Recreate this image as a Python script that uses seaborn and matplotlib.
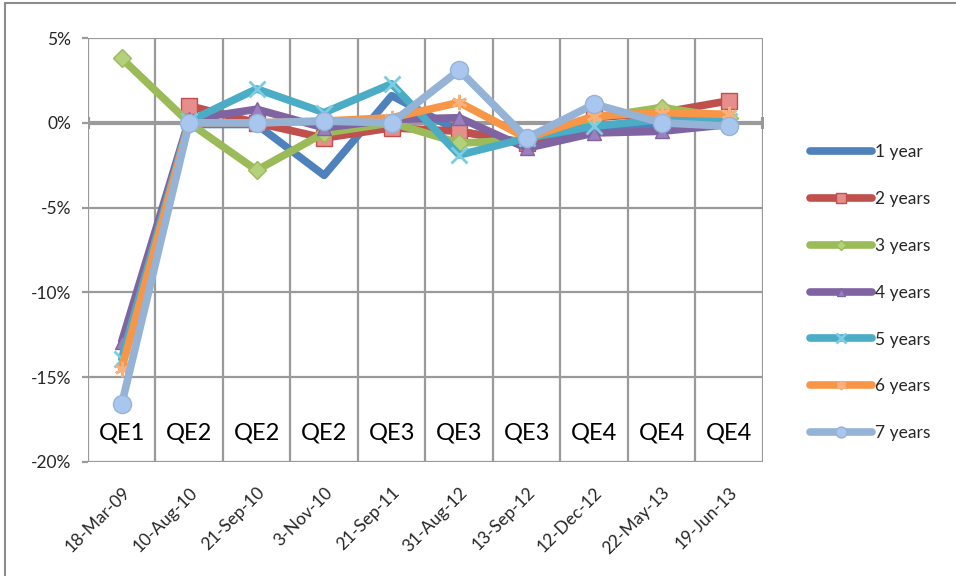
import numpy as np
import pandas as pd
import seaborn as sns
import matplotlib.pyplot as plt
from matplotlib.patches import Rectangle

# event dates and QE round labels
dates = ['18-Mar-09', '10-Aug-10', '21-Sep-10', '3-Nov-10', '21-Sep-11',
         '31-Aug-12', '13-Sep-12', '12-Dec-12', '22-May-13', '19-Jun-13']
qe_labels = ['QE1', 'QE2', 'QE2', 'QE2', 'QE3', 'QE3', 'QE3', 'QE4', 'QE4', 'QE4']

# yield changes (%) per maturity
y1 = [np.nan, -0.1, -0.1, -3.1, 1.6, -0.5, -1.2, -0.4, -0.1, 0.0]
y2 = [np.nan, 1.0, 0.0, -0.9, -0.3, -0.5, -1.2, 0.3, 0.6, 1.3]
y3 = [3.8, 0.0, -2.8, -0.6, 0.0, -1.2, -1.0, 0.3, 0.9, 0.3]
y4 = [-12.9, 0.2, 0.8, -0.3, 0.2, 0.3, -1.5, -0.6, -0.5, -0.1]
y5 = [-13.9, 0.1, 2.0, 0.6, 2.3, -1.9, -0.9, -0.2, 0.2, 0.1]
y6 = [-14.5, 0.0, 0.0, 0.1, 0.3, 1.2, -0.9, 0.4, 0.6, 0.5]
y7 = [-16.6, 0.0, 0.0, 0.1, 0.0, 3.1, -0.9, 1.1, 0.0, -0.2]

series = ['1 year', '2 years', '3 years', '4 years', '5 years', '6 years', '7 years']
values = [y1, y2, y3, y4, y5, y6, y7]

line_colors = ['#4F81BD', '#C0504D', '#9BBB59', '#8064A2', '#4BACC6', '#F79646', '#95B3D7']
face_colors = ['#4F81BD', '#E58E8C', '#B3D17A', '#9A80BE', '#7CCDE3', '#F9B07A', '#A9C6EE']
markers = [None, 's', 'D', '^', 'x', (6, 2, 0), 'o']
msizes = [0, 11, 9, 10, 11, 11, 13]

rows = []
for name, vals in zip(series, values):
    for i, v in enumerate(vals):
        rows.append({'series': name, 'pos': i, 'change': v / 100.0})
df = pd.DataFrame(rows)

sns.set_style('white')
plt.rcParams['font.family'] = ['Lato', 'DejaVu Sans']

fig = plt.figure(figsize=(9.56, 5.76), dpi=100)
ax = fig.add_axes([0.092, 0.198, 0.706, 0.736])

grid_c = '#9a9a9a'
# gridlines
for yv in [0.05, -0.05, -0.10, -0.15, -0.20]:
    ax.axhline(yv, color=grid_c, lw=1.6, zorder=0)
for xv in np.arange(-0.5, 10, 1):
    ax.axvline(xv, color=grid_c, lw=1.6, zorder=0)
# category axis at 0
ax.plot([-0.5, 9.5], [0, 0], color=grid_c, lw=3, zorder=1,
        marker='|', markersize=9, markeredgewidth=3)

for k, name in enumerate(series):
    sub = df[df['series'] == name]
    odd = markers[k] in ['x', (6, 2, 0)]
    sns.lineplot(data=sub, x='pos', y='change', ax=ax, color=line_colors[k],
                 lw=5.5, marker=markers[k], markersize=msizes[k],
                 markerfacecolor=face_colors[k],
                 markeredgecolor=face_colors[k] if odd else line_colors[k],
                 markeredgewidth=2 if odd else 1,
                 label=name, zorder=3 + k, legend=False,
                 solid_capstyle='round', solid_joinstyle='round')

for i, lab in enumerate(qe_labels):
    ax.text(i, -0.183, lab, ha='center', va='center', fontsize=17, color='black')

ax.set_xlim(-0.5, 9.5)
ax.set_ylim(-0.20, 0.05)
ax.set_yticks([0.05, 0, -0.05, -0.10, -0.15, -0.20])
ax.set_yticklabels(['5%', '0%', '-5%', '-10%', '-15%', '-20%'])
ax.set_xticks(range(len(dates)))
ax.set_xticklabels(dates, rotation=45, ha='right', rotation_mode='anchor')
ax.tick_params(axis='y', length=4, width=1.6, color=grid_c, pad=8, labelsize=12.5, left=True)
ax.tick_params(axis='x', length=0, pad=16, labelsize=12.5)
ax.set_xlabel('')
ax.set_ylabel('')
for s in ax.spines.values():
    s.set_visible(False)

handles = [l for l in ax.get_lines() if l.get_label() in series]
labels = [l.get_label() for l in handles]
leg = fig.legend(handles, labels, loc='center left', bbox_to_anchor=(0.840, 0.492),
                 frameon=False, fontsize=12.5, handlelength=3.6, handletextpad=0.15,
                 labelspacing=1.78, markerscale=0.6, borderaxespad=0)

# outer chart border
fig.patches.append(Rectangle((5 / 956, -0.1), 1.2, 1.1 - 3 / 576, transform=fig.transFigure,
                             fill=False, edgecolor='#8c8c8c', lw=1.5))

fig.savefig('out.png', dpi=100)
